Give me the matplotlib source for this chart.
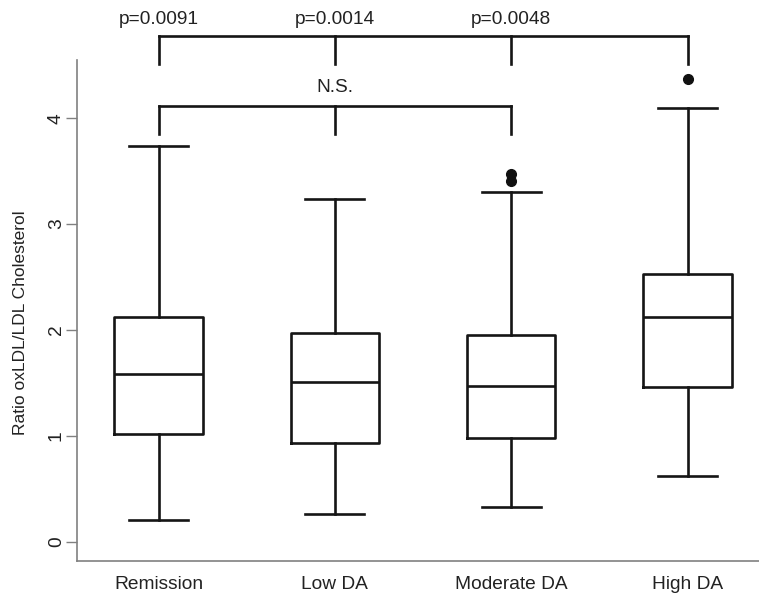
import numpy as np
import matplotlib.pyplot as plt

plt.rcParams['font.family'] = ['Liberation Sans', 'DejaVu Sans']

groups = ['Remission', 'Low DA', 'Moderate DA', 'High DA']
whisker_low = [0.20, 0.26, 0.33, 0.62]
q1 = [1.02, 0.93, 0.98, 1.46]
median = [1.58, 1.51, 1.47, 2.12]
q3 = [2.12, 1.97, 1.95, 2.53]
whisker_high = [3.74, 3.24, 3.30, 4.10]
outliers = [[], [], [3.47, 3.41], [4.37]]

p_labels = ['p=0.0091', 'p=0.0014', 'p=0.0048']
ns_label = 'N.S.'

stats = []
for i, g in enumerate(groups):
    stats.append(dict(label=g, whislo=whisker_low[i], q1=q1[i], med=median[i],
                      q3=q3[i], whishi=whisker_high[i], fliers=outliers[i]))

fig = plt.figure(figsize=(7.59, 5.95), dpi=100)
ax = fig.add_axes([76.7 / 759, 1 - 561 / 595, 1 - 76.7 / 759, (561 - 60) / 595])

lw = 1.9
col = '#151515'
pos = np.arange(1, len(groups) + 1)
ax.bxp(stats, positions=pos, widths=0.5, capwidths=0.335,
       boxprops=dict(color=col, linewidth=lw),
       medianprops=dict(color=col, linewidth=lw),
       whiskerprops=dict(color=col, linewidth=lw),
       capprops=dict(color=col, linewidth=lw),
       flierprops=dict(marker='o', markerfacecolor='#111111',
                       markeredgecolor='#111111', markersize=7))

ax.set_xlim(0.536, 4.405)
ax.set_ylim(-0.184, 4.551)
ax.set_yticks([0, 1, 2, 3, 4])
for lab in ax.get_yticklabels():
    lab.set_rotation(90)
    lab.set_va('center')
ax.tick_params(axis='y', length=8, width=1, color='#808080', pad=0.5,
               labelsize=13.8, labelcolor='#222222')
ax.tick_params(axis='x', length=0, pad=11, labelsize=13.8,
               labelcolor='#222222')
ax.set_xticks(pos)
ax.set_xticklabels(groups)
ax.spines['top'].set_visible(False)
ax.spines['right'].set_visible(False)
for s in ['left', 'bottom']:
    ax.spines[s].set_color('#808080')
    ax.spines[s].set_linewidth(1.2)
ax.set_ylabel('Ratio oxLDL/LDL Cholesterol', fontsize=12.5, color='#222222')
ax.yaxis.set_label_coords(-0.071, 0.475)

# upper comparison bracket: High DA vs the other three
top_y, top_drop = 4.778, 4.513
ax.plot([1, 4], [top_y, top_y], color=col, lw=lw, clip_on=False)
for x in pos:
    ax.plot([x, x], [top_drop, top_y], color=col, lw=lw, clip_on=False)
for i, t in enumerate(p_labels):
    ax.text(pos[i], 4.93, t, ha='center', va='center', fontsize=13.8,
            color='#222222', clip_on=False)

# lower bracket: first three groups
low_y, low_drop = 4.119, 3.852
ax.plot([1, 3], [low_y, low_y], color=col, lw=lw)
for x in pos[:3]:
    ax.plot([x, x], [low_drop, low_y], color=col, lw=lw)
ax.text(2, 4.29, ns_label, ha='center', va='center', fontsize=13.8,
        color='#222222')

fig.savefig('out.png', dpi=100)
